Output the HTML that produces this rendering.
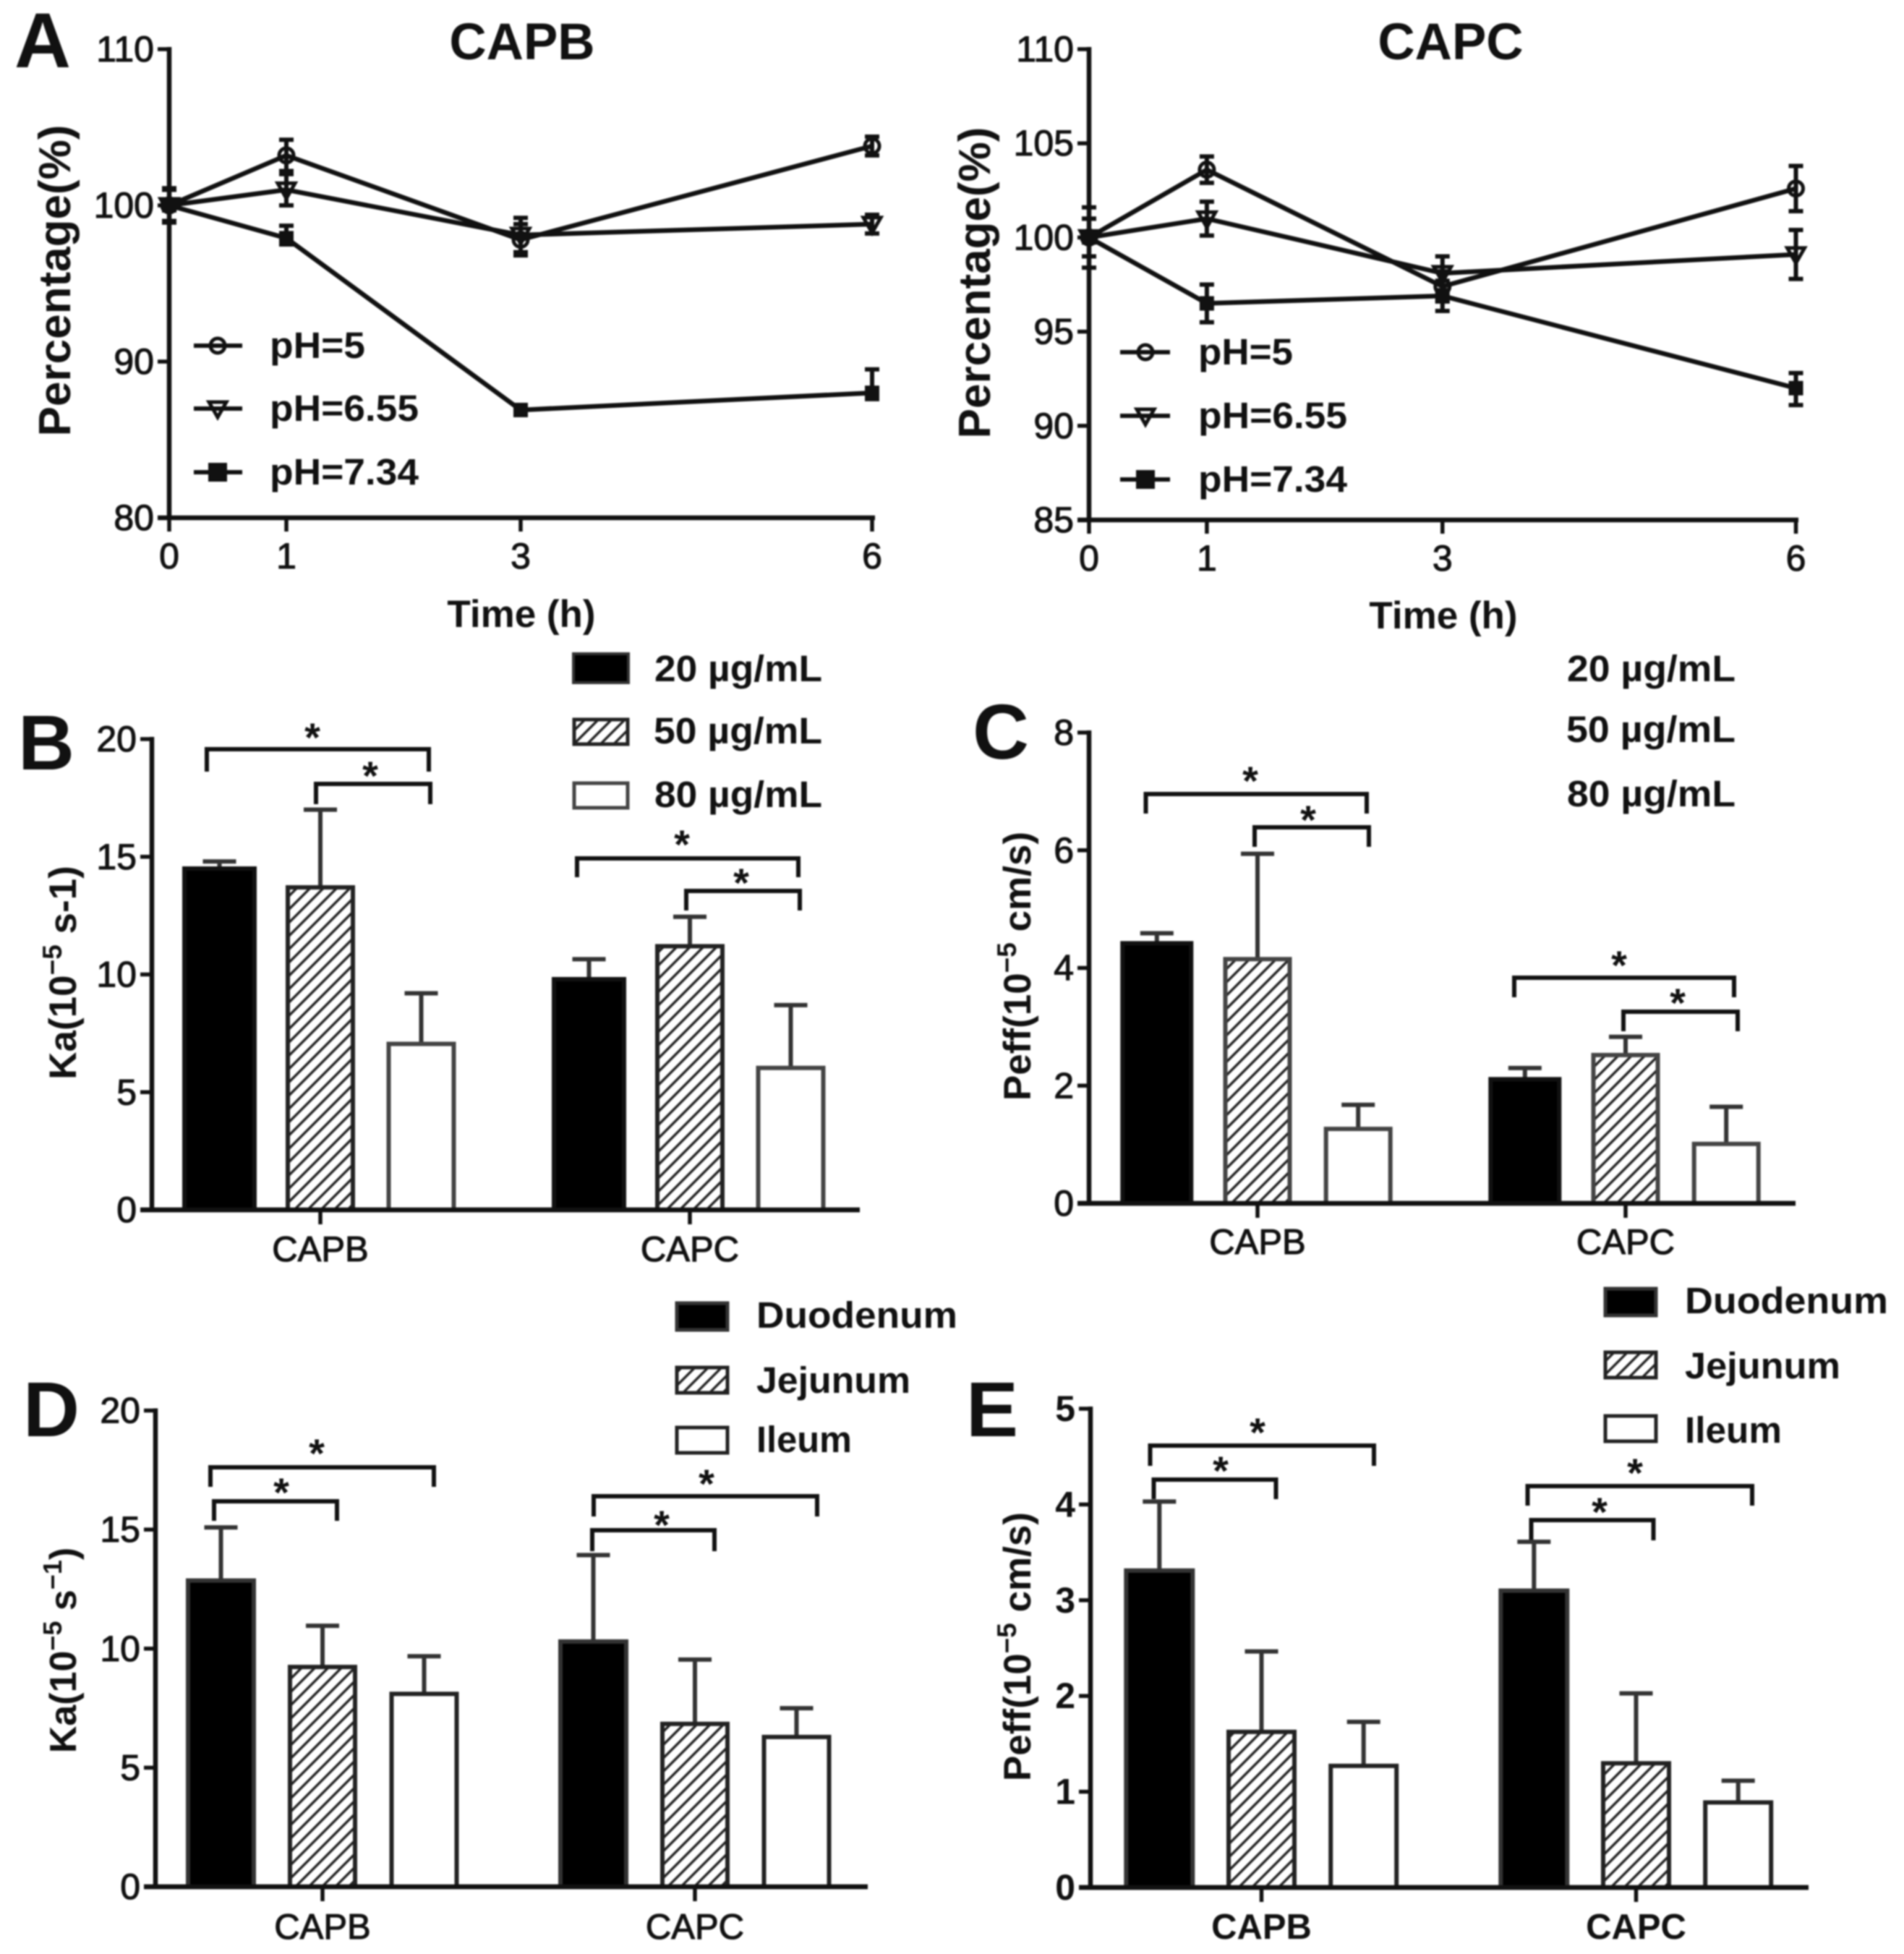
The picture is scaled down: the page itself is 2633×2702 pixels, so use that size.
<!DOCTYPE html>
<html lang="en">
<head>
<meta charset="utf-8">
<title>CAPB and CAPC stability and absorption charts</title>
<style>
html,body{margin:0;padding:0;background:#fff;}
svg{display:block;filter:blur(1.1px);}
text{font-family:"Liberation Sans",sans-serif;fill:#111;}
.b{font-weight:bold;}
.tick{stroke:#111;stroke-width:1.1px;}
.star{font-weight:bold;font-size:56px;text-anchor:middle;transform:translateY(-6px);}
.br{fill:none;stroke:#111;stroke-width:6;}
.leg{font-size:51px;font-weight:bold;}
.letter{font-size:108px;font-weight:bold;}
.ytitle{font-weight:bold;text-anchor:middle;}
</style>
</head>
<body>
<svg id="fig" xmlns="http://www.w3.org/2000/svg" width="2633" height="2702" viewBox="0 0 2633 2702">
<defs>
<pattern id="hatch" patternUnits="userSpaceOnUse" width="13" height="13" patternTransform="rotate(45)">
<rect width="13" height="13" fill="#fff"/>
<rect x="0" y="0" width="3.4" height="13" fill="#222"/>
</pattern>
</defs>
<rect width="2633" height="2702" fill="#fff"/>

<!-- Panel letters -->
<text class="letter" x="20" y="93">A</text>
<text class="letter" x="25" y="1064">B</text>
<text class="letter" x="1345" y="1049">C</text>
<text class="letter" x="32" y="1986">D</text>
<text class="letter" x="1336" y="1986">E</text>

<!-- Panel A titles -->
<text class="b" x="722" y="82" font-size="71" text-anchor="middle">CAPB</text>
<text class="b" x="2006" y="82" font-size="71" text-anchor="middle">CAPC</text>
<text class="ytitle" font-size="62" transform="translate(97 388) rotate(-90)">Percentage(%)</text>
<text class="ytitle" font-size="62" transform="translate(1369 391) rotate(-90)">Percentage(%)</text>
<text class="b" x="721" y="867" font-size="53" text-anchor="middle">Time (h)</text>
<text class="b" x="1996" y="869" font-size="53" text-anchor="middle">Time (h)</text>

<!-- Panel A legends -->
<g stroke="#111" stroke-width="6" fill="none">
  <path d="M268 478H335"/>
  <circle cx="301" cy="478" r="10" stroke-width="5"/>
  <path d="M268 565H335"/>
  <path d="M289 556H313L301 577Z" stroke-width="5"/>
  <path d="M268 653H335"/>
  <rect x="291" y="643" width="20" height="20" fill="#111"/>
</g>
<text class="leg" x="373" y="495" textLength="132" lengthAdjust="spacingAndGlyphs">pH=5</text>
<text class="leg" x="373" y="582" textLength="206" lengthAdjust="spacingAndGlyphs">pH=6.55</text>
<text class="leg" x="373" y="670" textLength="206" lengthAdjust="spacingAndGlyphs">pH=7.34</text>

<g stroke="#111" stroke-width="6" fill="none">
  <path d="M1549 487H1618"/>
  <circle cx="1584" cy="487" r="10" stroke-width="5"/>
  <path d="M1549 575H1618"/>
  <path d="M1572 566H1596L1584 587Z" stroke-width="5"/>
  <path d="M1549 663H1618"/>
  <rect x="1574" y="653" width="20" height="20" fill="#111"/>
</g>
<text class="leg" x="1657" y="504" textLength="131" lengthAdjust="spacingAndGlyphs">pH=5</text>
<text class="leg" x="1657" y="592" textLength="206" lengthAdjust="spacingAndGlyphs">pH=6.55</text>
<text class="leg" x="1657" y="680" textLength="206" lengthAdjust="spacingAndGlyphs">pH=7.34</text>

<!-- Panel B legend -->
<g>
  <rect x="793" y="904" width="76" height="40" fill="#000" stroke="#333" stroke-width="4"/>
  <rect x="794" y="995" width="74" height="34" fill="url(#hatch)" stroke="#222" stroke-width="5"/>
  <rect x="794" y="1083" width="74" height="34" fill="#fff" stroke="#444" stroke-width="5"/>
  <text class="leg" x="905" y="942" textLength="232" lengthAdjust="spacingAndGlyphs">20 µg/mL</text>
  <text class="leg" x="904" y="1028" textLength="233" lengthAdjust="spacingAndGlyphs">50 µg/mL</text>
  <text class="leg" x="905" y="1116" textLength="232" lengthAdjust="spacingAndGlyphs">80 µg/mL</text>
</g>
<!-- Panel C legend (labels only) -->
<g>
  <text class="leg" x="2167" y="942" textLength="233" lengthAdjust="spacingAndGlyphs">20 µg/mL</text>
  <text class="leg" x="2166" y="1026" textLength="234" lengthAdjust="spacingAndGlyphs">50 µg/mL</text>
  <text class="leg" x="2167" y="1115" textLength="233" lengthAdjust="spacingAndGlyphs">80 µg/mL</text>
</g>
<!-- Panel D legend -->
<g>
  <rect x="936" y="1802" width="70" height="37" fill="#000" stroke="#333" stroke-width="5"/>
  <rect x="936" y="1891" width="70" height="35" fill="url(#hatch)" stroke="#222" stroke-width="5"/>
  <rect x="936" y="1974" width="70" height="35" fill="#fff" stroke="#222" stroke-width="5"/>
  <text class="leg" x="1046" y="1836" textLength="278" lengthAdjust="spacingAndGlyphs">Duodenum</text>
  <text class="leg" x="1046" y="1926" textLength="213" lengthAdjust="spacingAndGlyphs">Jejunum</text>
  <text class="leg" x="1046" y="2008" textLength="132" lengthAdjust="spacingAndGlyphs">Ileum</text>
</g>
<!-- Panel E legend -->
<g>
  <rect x="2220" y="1782" width="70" height="37" fill="#000" stroke="#333" stroke-width="5"/>
  <rect x="2220" y="1870" width="70" height="35" fill="url(#hatch)" stroke="#222" stroke-width="5"/>
  <rect x="2220" y="1958" width="70" height="35" fill="#fff" stroke="#222" stroke-width="5"/>
  <text class="leg" x="2330" y="1816" textLength="281" lengthAdjust="spacingAndGlyphs">Duodenum</text>
  <text class="leg" x="2330" y="1906" textLength="215" lengthAdjust="spacingAndGlyphs">Jejunum</text>
  <text class="leg" x="2330" y="1995" textLength="134" lengthAdjust="spacingAndGlyphs">Ileum</text>
</g>

<!-- Y axis titles for bar panels -->
<text class="ytitle" font-size="53" transform="translate(105 1345) rotate(-90)">Ka(10<tspan font-size="37" dy="-20">−5</tspan><tspan dy="20"> s-1)</tspan></text>
<text class="ytitle" font-size="53" transform="translate(1425 1336) rotate(-90)">Peff(10<tspan font-size="37" dy="-20">−5</tspan><tspan dy="20"> cm/s)</tspan></text>
<text class="ytitle" font-size="52" transform="translate(105 2282) rotate(-90)">Ka(10<tspan font-size="36" dy="-20">−5</tspan><tspan dy="20"> s</tspan><tspan font-size="36" dy="-20">−1</tspan><tspan dy="20">)</tspan></text>
<text class="ytitle" font-size="53" transform="translate(1425 2277) rotate(-90)">Peff(10<tspan font-size="37" dy="-20">−5</tspan><tspan dy="20"> cm/s)</tspan></text>

<!-- Significance brackets -->
<g>
  <path class="br" d="M286 1067V1036H593V1067"/>
  <text class="star" x="432" y="1045">*</text>
  <path class="br" d="M437 1112V1084H595V1112"/>
  <text class="star" x="512" y="1098">*</text>
  <path class="br" d="M798 1213V1187H1104V1213"/>
  <text class="star" x="943" y="1193">*</text>
  <path class="br" d="M949 1259V1232H1106V1259"/>
  <text class="star" x="1025" y="1246">*</text>

  <path class="br" d="M1584.5 1125V1098H1890V1125"/>
  <text class="star" x="1729" y="1105">*</text>
  <path class="br" d="M1735 1171V1144H1893V1171"/>
  <text class="star" x="1809" y="1159">*</text>
  <path class="br" d="M2094 1379V1352H2398V1379"/>
  <text class="star" x="2239" y="1360">*</text>
  <path class="br" d="M2245 1426V1399H2403V1426"/>
  <text class="star" x="2320" y="1412">*</text>

  <path class="br" d="M291 2056V2029H600V2056"/>
  <text class="star" x="438" y="2035">*</text>
  <path class="br" d="M296 2103V2076H466V2103"/>
  <text class="star" x="389" y="2089">*</text>
  <path class="br" d="M821 2097V2069H1130V2097"/>
  <text class="star" x="977" y="2077">*</text>
  <path class="br" d="M819 2145V2116H988V2145"/>
  <text class="star" x="915" y="2134">*</text>

  <path class="br" d="M1590.5 2027V1999H1900V2027"/>
  <text class="star" x="1739" y="2006">*</text>
  <path class="br" d="M1595.5 2073V2046H1764.5V2073"/>
  <text class="star" x="1688" y="2059">*</text>
  <path class="br" d="M2112.5 2082V2055H2423V2082"/>
  <text class="star" x="2261" y="2062">*</text>
  <path class="br" d="M2117.5 2130V2102H2286.5V2130"/>
  <text class="star" x="2212" y="2116">*</text>
</g>
</svg>

<script>
/* ---- Panel A data ---- */
const timeTicks = [0, 1, 3, 6];
const capbYTicks = [80, 90, 100, 110];
const capcYTicks = [85, 90, 95, 100, 105, 110];

const capbPh5 = [100, 103.2, 97.8, 103.8];
const capbPh5Err = [1.0, 1.0, 1.0, 0.6];
const capbPh655 = [100, 101, 98.1, 98.8];
const capbPh655Err = [1.1, 1.0, 1.1, 0.6];
const capbPh734 = [100, 97.9, 86.9, 88];
const capbPh734ErrUp = [1.0, 0.8, 0.3, 1.5];
const capbPh734ErrDown = [1.0, 0.4, 0.3, 0.4];

const capcPh5 = [100, 103.6, 97.4, 102.6];
const capcPh5Err = [1.0, 0.7, 0.8, 1.2];
const capcPh655 = [100, 101, 98.1, 99.1];
const capcPh655Err = [1.0, 0.9, 0.9, 1.3];
const capcPh734 = [100, 96.5, 96.9, 92];
const capcPh734ErrUp = [1.6, 1.0, 0.8, 0.8];
const capcPh734ErrDown = [1.6, 1.0, 0.8, 0.9];

/* ---- Bar panel data ---- */
const barCategories = ['CAPB', 'CAPC'];

const bTicks = [0, 5, 10, 15, 20];
const bConc20 = [14.5, 9.8];
const bConc20Err = [0.3, 0.85];
const bConc50 = [13.7, 11.2];
const bConc50Err = [3.3, 1.25];
const bConc80 = [7.05, 6.03];
const bConc80Err = [2.15, 2.67];

const cTicks = [0, 2, 4, 6, 8];
const cConc20 = [4.42, 2.11];
const cConc20Err = [0.17, 0.19];
const cConc50 = [4.15, 2.52];
const cConc50Err = [1.79, 0.31];
const cConc80 = [1.265, 1.01];
const cConc80Err = [0.41, 0.63];

const dTicks = [0, 5, 10, 15, 20];
const dDuodenum = [12.86, 10.3];
const dDuodenumErr = [2.23, 3.63];
const dJejunum = [9.23, 6.84];
const dJejunumErr = [1.73, 2.7];
const dIleum = [8.1, 6.29];
const dIleumErr = [1.58, 1.21];

const eTicks = [0, 1, 2, 3, 4, 5];
const eDuodenum = [3.31, 3.1];
const eDuodenumErr = [0.72, 0.51];
const eJejunum = [1.625, 1.297];
const eJejunumErr = [0.84, 0.73];
const eIleum = [1.27, 0.888];
const eIleumErr = [0.46, 0.227];

const svgNS = 'http://www.w3.org/2000/svg';
const fig = document.getElementById('fig');

function mk(tag, attrs, parent) {
  const n = document.createElementNS(svgNS, tag);
  for (const k in attrs) n.setAttribute(k, attrs[k]);
  (parent || fig).appendChild(n);
  return n;
}

function linScale(d0, d1, p0, p1) {
  return function (v) { return p0 + (v - d0) * (p1 - p0) / (d1 - d0); };
}

function drawAxes(o) {
  const g = mk('g', {});
  
  
  const yAxis = mk('line', { x1: o.x0, x2: o.x0, y1: o.yTop - 3, y2: o.yBot + 3, stroke: '#111', 'stroke-width': 6.5 }, g);
  
  
  const xAxis = mk('line', { x1: o.x0 - o.tickLen, x2: o.xEnd, y1: o.yBot, y2: o.yBot, stroke: '#111', 'stroke-width': 6.5 }, g);
  
  
  o.yTicks.forEach(function (v) {
    const py = o.y(v);
    const t = mk('line', { x1: o.x0 - o.tickLen, x2: o.x0, y1: py, y2: py, stroke: '#111', 'stroke-width': 5.5 }, g);
    
    
    const lab = mk('text', { x: o.x0 - o.tickLen - 5, y: py + 17, 'font-size': o.tickFont, 'text-anchor': 'end', class: o.boldTicks ? 'b' : 'tick' }, g);
    
    
    lab.textContent = v;
  });
  return g;
}

function drawLineChart(o) {
  const g = drawAxes(o);
  o.xTicks.forEach(function (v) {
    const px = o.x(v);
    const t = mk('line', { x1: px, x2: px, y1: o.yBot, y2: o.yBot + 19, stroke: '#111', 'stroke-width': 5.5 }, g);
    
    
    const lab = mk('text', { x: px, y: o.yBot + 70, 'font-size': o.tickFont, 'text-anchor': 'middle', class: 'tick' }, g);
    
    
    lab.textContent = v;
  });
  o.series.forEach(function (s) {
    const sg = mk('g', {});
    
    
    const pts = o.xTicks.map(function (t, i) { return o.x(t) + ',' + o.y(s.vals[i]); }).join(' ');
    const line = mk('polyline', { points: pts, fill: 'none', stroke: '#111', 'stroke-width': 6.5, 'stroke-linejoin': 'round' }, sg);
    
    
    o.xTicks.forEach(function (t, i) {
      const px = o.x(t);
      const py = o.y(s.vals[i]);
      const up = o.y(s.vals[i] + s.up[i]);
      const dn = o.y(s.vals[i] - s.down[i]);
      const eb = mk('path', { d: 'M' + (px - 10) + ' ' + up + 'H' + (px + 10) + 'M' + px + ' ' + up + 'V' + dn + 'M' + (px - 10) + ' ' + dn + 'H' + (px + 10), fill: 'none', stroke: '#111', 'stroke-width': 6 }, sg);
      
      
      let m;
      if (s.key === 'ph5') {
        m = mk('circle', { cx: px, cy: py, r: 10, fill: 'none', stroke: '#111', 'stroke-width': 5 }, sg);
      } else if (s.key === 'ph655') {
        m = mk('path', { d: 'M' + (px - 12) + ' ' + (py - 9) + 'H' + (px + 12) + 'L' + px + ' ' + (py + 12) + 'Z', fill: 'none', stroke: '#111', 'stroke-width': 5 }, sg);
      } else {
        m = mk('rect', { x: px - 10, y: py - 10, width: 20, height: 20, fill: '#111' }, sg);
      }
      
      
    });
  });
}

function drawBarChart(o) {
  const g = drawAxes(o);
  o.categories.forEach(function (cat, c) {
    const center = o.catX0 + c * o.catStep;
    const t = mk('line', { x1: center, x2: center, y1: o.yBot, y2: o.yBot + 20, stroke: '#111', 'stroke-width': 5.5 }, g);
    
    
    const lab = mk('text', { x: center, y: o.yBot + o.catLabelDy, 'font-size': 49, 'text-anchor': 'middle', class: o.boldTicks ? 'b' : 'tick' }, g);
    
    
    lab.textContent = cat;
    o.series.forEach(function (s, i) {
      const cx = center + (i - 1) * o.pitch;
      const val = s.vals[c];
      const top = o.y(val);
      const errTop = o.y(val + s.err[c]);
      const bw = i === 0 ? o.blackW : o.barW;
      const eb = mk('path', { d: 'M' + (cx - 23) + ' ' + errTop + 'H' + (cx + 23) + 'M' + cx + ' ' + errTop + 'V' + top, fill: 'none', stroke: o.errColor, 'stroke-width': 6 }, g);
      
      
      const bar = mk('rect', { x: cx - bw / 2 + 3, y: top, width: bw - 6, height: o.yBot - top, fill: s.fill, stroke: s.stroke, 'stroke-width': 6 }, g);
      
      
    });
  });
  /* redraw baseline on top of the bar bottoms */
  const base = mk('line', { x1: o.x0 - o.tickLen, x2: o.xEnd, y1: o.yBot, y2: o.yBot, stroke: '#111', 'stroke-width': 6.5 }, g);
  
  
}

drawLineChart({
  name: 'capb', x0: 234, xEnd: 1210, yTop: 68, yBot: 716, tickLen: 16, tickFont: 50,
  x: linScale(0, 6, 234, 1206), y: linScale(80, 110, 716, 68),
  xTicks: timeTicks, yTicks: capbYTicks,
  series: [
    { key: 'ph5', vals: capbPh5, up: capbPh5Err, down: capbPh5Err },
    { key: 'ph655', vals: capbPh655, up: capbPh655Err, down: capbPh655Err },
    { key: 'ph734', vals: capbPh734, up: capbPh734ErrUp, down: capbPh734ErrDown }
  ]
});

drawLineChart({
  name: 'capc', x0: 1506, xEnd: 2487, yTop: 68, yBot: 719, tickLen: 16, tickFont: 50,
  x: linScale(0, 6, 1506, 2483.5), y: linScale(85, 110, 719, 68),
  xTicks: timeTicks, yTicks: capcYTicks,
  series: [
    { key: 'ph5', vals: capcPh5, up: capcPh5Err, down: capcPh5Err },
    { key: 'ph655', vals: capcPh655, up: capcPh655Err, down: capcPh655Err },
    { key: 'ph734', vals: capcPh734, up: capcPh734ErrUp, down: capcPh734ErrDown }
  ]
});

drawBarChart({
  name: 'panel-b', x0: 210, xEnd: 1189, yTop: 1022, yBot: 1673, tickLen: 16, tickFont: 50,
  y: linScale(0, 20, 1673, 1022), yTicks: bTicks, categories: barCategories,
  catX0: 443, catStep: 511, pitch: 139.5, barW: 96, blackW: 103, catLabelDy: 71, errColor: '#333',
  series: [
    { key: '20-ug-ml', vals: bConc20, err: bConc20Err, fill: '#000', stroke: '#111' },
    { key: '50-ug-ml', vals: bConc50, err: bConc50Err, fill: 'url(#hatch)', stroke: '#222' },
    { key: '80-ug-ml', vals: bConc80, err: bConc80Err, fill: '#fff', stroke: '#444' }
  ]
});

drawBarChart({
  name: 'panel-c', x0: 1506, xEnd: 2483, yTop: 1013, yBot: 1664, tickLen: 16, tickFont: 50,
  y: linScale(0, 8, 1664, 1013), yTicks: cTicks, categories: barCategories,
  catX0: 1739, catStep: 509, pitch: 139.2, barW: 95, blackW: 101, catLabelDy: 70, errColor: '#333',
  series: [
    { key: '20-ug-ml', vals: cConc20, err: cConc20Err, fill: '#000', stroke: '#111' },
    { key: '50-ug-ml', vals: cConc50, err: cConc50Err, fill: 'url(#hatch)', stroke: '#444' },
    { key: '80-ug-ml', vals: cConc80, err: cConc80Err, fill: '#fff', stroke: '#444' }
  ]
});

drawBarChart({
  name: 'panel-d', x0: 215, xEnd: 1200, yTop: 1950.5, yBot: 2609, tickLen: 16, tickFont: 50,
  y: linScale(0, 20, 2609, 1950.5), yTicks: dTicks, categories: barCategories,
  catX0: 446, catStep: 515, pitch: 140.5, barW: 96, blackW: 97, catLabelDy: 72, errColor: '#333',
  series: [
    { key: 'duodenum', vals: dDuodenum, err: dDuodenumErr, fill: '#000', stroke: '#333' },
    { key: 'jejunum', vals: dJejunum, err: dJejunumErr, fill: 'url(#hatch)', stroke: '#222' },
    { key: 'ileum', vals: dIleum, err: dIleumErr, fill: '#fff', stroke: '#222' }
  ]
});

drawBarChart({
  name: 'panel-e', x0: 1508, xEnd: 2501, yTop: 1948, yBot: 2610, tickLen: 16, tickFont: 50, boldTicks: true,
  y: linScale(0, 5, 2610, 1948), yTicks: eTicks, categories: barCategories,
  catX0: 1744.5, catStep: 518, pitch: 141.2, barW: 97, blackW: 98, catLabelDy: 71, errColor: '#333',
  series: [
    { key: 'duodenum', vals: eDuodenum, err: eDuodenumErr, fill: '#000', stroke: '#333' },
    { key: 'jejunum', vals: eJejunum, err: eJejunumErr, fill: 'url(#hatch)', stroke: '#222' },
    { key: 'ileum', vals: eIleum, err: eIleumErr, fill: '#fff', stroke: '#222' }
  ]
});
</script>
</body>
</html>
